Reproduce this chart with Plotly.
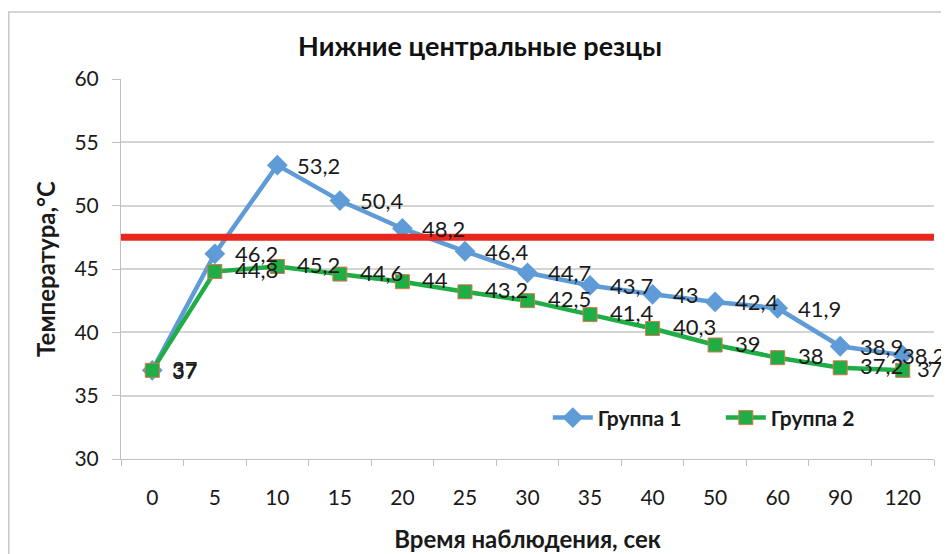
import plotly.graph_objects as go

categories = ["0", "5", "10", "15", "20", "25", "30", "35", "40", "50", "60", "90", "120"]
group1 = [37, 46.2, 53.2, 50.4, 48.2, 46.4, 44.7, 43.7, 43, 42.4, 41.9, 38.9, 38.2]
group2 = [37, 44.8, 45.2, 44.6, 44, 43.2, 42.5, 41.4, 40.3, 39, 38, 37.2, 37]
threshold = 47.5
series_names = ["Группа 1", "Группа 2"]

FONT = "Lato, 'Open Sans', sans-serif"
TXT = "#1a1a1a"

def fmt(v):
    return f"{v:g}".replace(".", ",")

fig = go.Figure()
fig.add_trace(go.Scatter(
    x=categories, y=group1, name=f"<b>{series_names[0]}</b>", mode="lines+markers",
    line=dict(color="#5F9BD6", width=4.5),
    marker=dict(symbol="diamond", size=16, color="#5F9BD6"),
))
fig.add_trace(go.Scatter(
    x=categories, y=group2, name=f"<b>{series_names[1]}</b>", mode="lines+markers",
    line=dict(color="#1FAD45", width=4.5),
    marker=dict(symbol="square", size=14, color="#1FAD45", line=dict(color="#D9774A", width=1)),
))

# data labels (Excel-style "right" position; last labels pulled in to fit the chart)
for gi, (series, yshift) in enumerate(((group1, 0), (group2, 2))):
    for i, v in enumerate(series):
        xs = 18
        if i == len(categories) - 1:
            xs = -3 if gi == 0 else 12
        fig.add_annotation(x=i, y=v, xref="x", yref="y", text=fmt(v), showarrow=False,
                           xanchor="left", yanchor="middle", xshift=xs, yshift=yshift,
                           font=dict(size=22, color=TXT, family=FONT))

fig.add_shape(type="line", xref="paper", yref="y", x0=0, x1=1, y0=threshold, y1=threshold,
              line=dict(color="#E8281E", width=7))
# outer chart frame
fig.add_shape(type="rect", xref="paper", yref="paper", x0=-0.138, x1=1.2, y0=-0.5, y1=1.176,
              line=dict(color="#C8C8C8", width=1.5), fillcolor="rgba(0,0,0,0)")

fig.update_layout(
    width=949, height=554,
    margin=dict(l=113, r=23, t=71, b=103),
    paper_bgcolor="white", plot_bgcolor="white",
    font=dict(family=FONT, size=20, color=TXT),
    title=dict(text="<b>Нижние центральные резцы</b>", x=472 / 949, xref="container",
               y=1 - 39 / 554, yref="container", xanchor="center", yanchor="middle",
               font=dict(size=27, family=FONT, color="#111111")),
    showlegend=True,
    legend=dict(orientation="h", x=0.525, y=0.108, xanchor="left", yanchor="middle",
                font=dict(size=21, family=FONT, color=TXT), bgcolor="rgba(0,0,0,0)",
                itemwidth=40, entrywidth=118),
    xaxis=dict(
        type="category", range=[-0.5, 12.5], showgrid=False,
        showline=True, linecolor="#BFBFBF", linewidth=1,
        ticks="outside", tickson="boundaries", ticklen=6, tickcolor="#BFBFBF",
        ticklabelstandoff=20,
        tickfont=dict(size=21, family=FONT, color=TXT),
        title=dict(text="<b>Время наблюдения, сек</b>", standoff=22,
                   font=dict(size=24, family=FONT, color=TXT)),
    ),
    yaxis=dict(
        range=[30, 60], dtick=5, showgrid=True, gridcolor="#D4D4D4", gridwidth=1.5,
        showline=True, linecolor="#BFBFBF", linewidth=1,
        ticks="outside", ticklen=8, tickcolor="#BFBFBF",
        ticklabelstandoff=9,
        tickfont=dict(size=21, family=FONT, color=TXT),
        title=dict(text="<b>Температура,°C</b>", standoff=12,
                   font=dict(size=24, family=FONT, color=TXT)),
        zeroline=False,
    ),
)

fig.write_html("out.html")
